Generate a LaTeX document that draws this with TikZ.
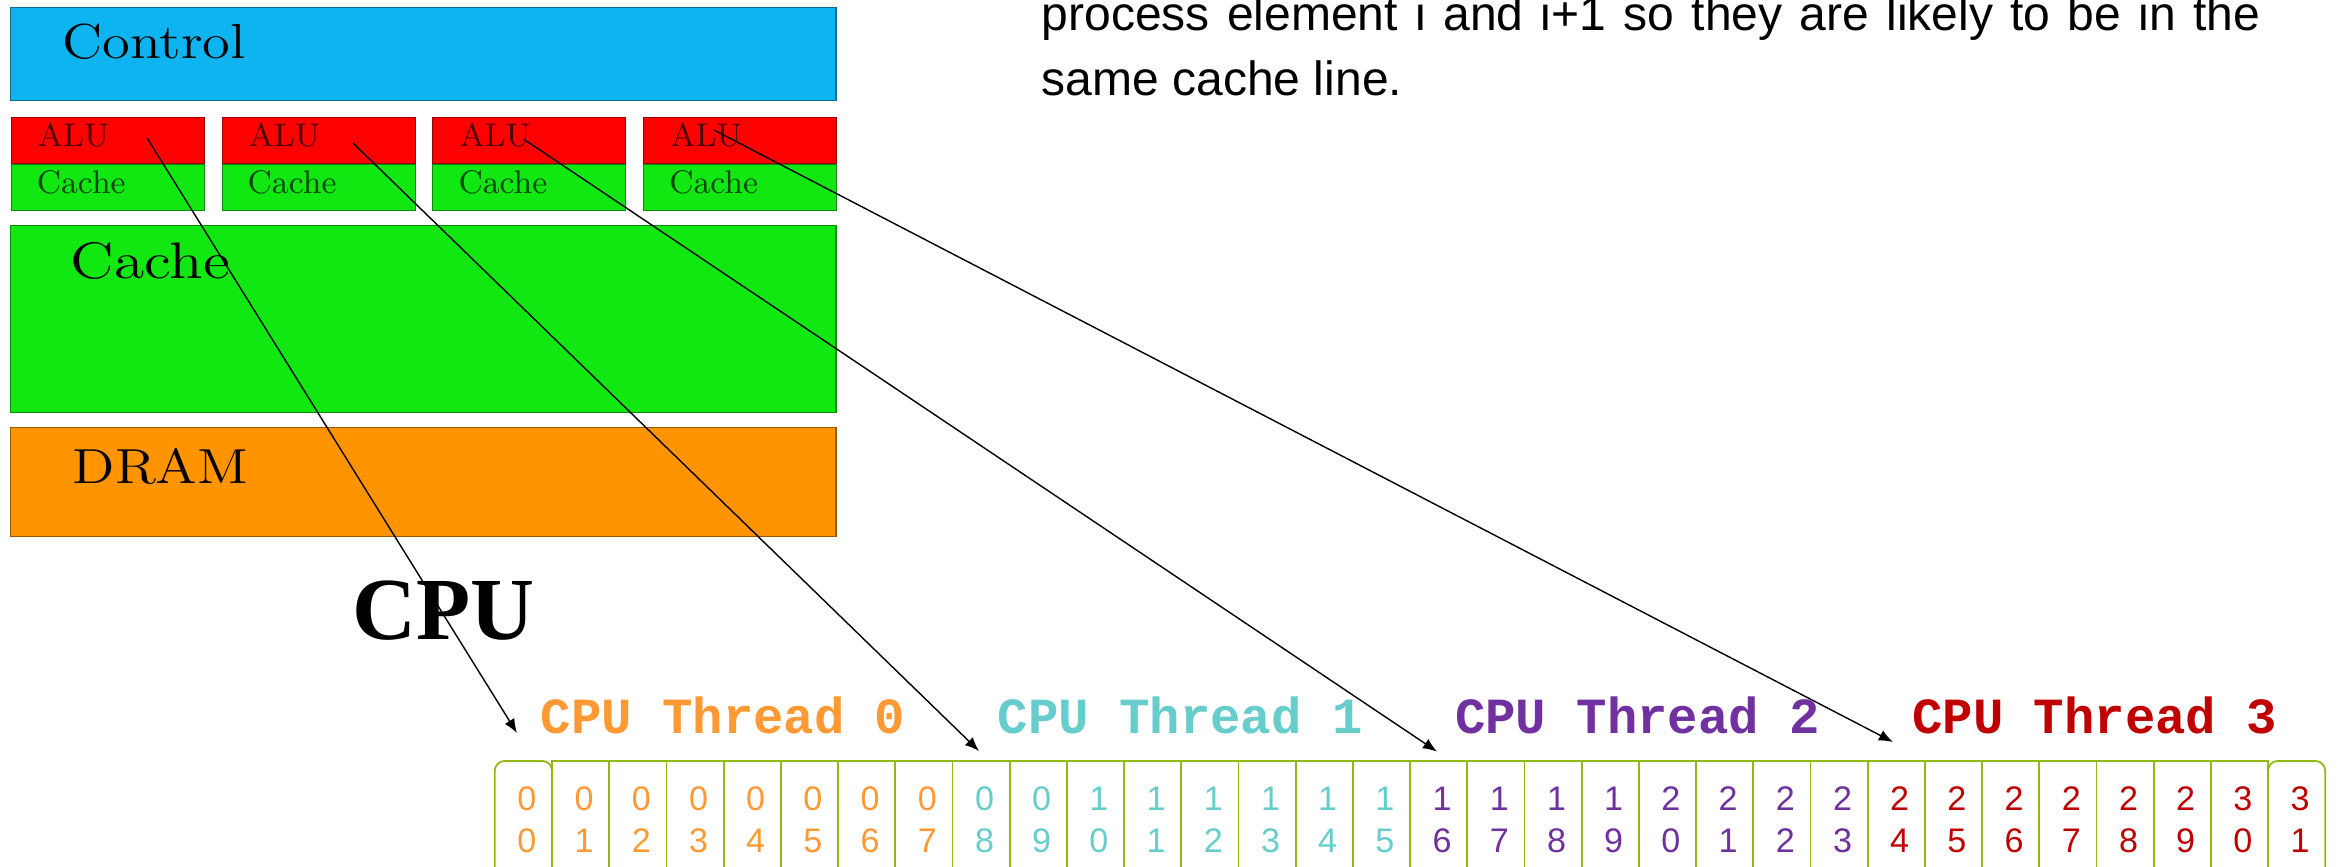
\documentclass[tikz,border=0pt]{standalone}
\usepackage{fontspec}
\usepackage{graphicx}
\usetikzlibrary{positioning,arrows.meta}
\newfontfamily\arialfont{Liberation Sans}
\newfontfamily\courfont{Liberation Mono}
\newfontfamily\timesfont{Liberation Serif}
\definecolor{ctrlblue}{RGB}{13,180,240}
\definecolor{alured}{RGB}{255,0,0}
\definecolor{cachegreen}{RGB}{17,232,17}
\definecolor{dramorange}{RGB}{255,148,0}
\definecolor{cellgreen}{RGB}{146,184,18}
\definecolor{th0}{RGB}{255,153,51}
\definecolor{th1}{RGB}{102,204,204}
\definecolor{th2}{RGB}{112,48,160}
\definecolor{th3}{RGB}{192,0,0}
\begin{document}
\begin{tikzpicture}[x=0.01cm, y=-0.01cm,
    panel/.style={draw=#1!60!black, fill=#1, line width=0.3pt, inner sep=0pt, anchor=north west},
    wide/.style={minimum width=8.25cm},
    small/.style={minimum width=1.93cm, minimum height=0.46cm},
    bigtxt/.style={anchor=base west, inner sep=0pt, font=\fontsize{14}{17}\selectfont},
    smalltxt/.style={anchor=base west, inner sep=0pt, text opacity=0.7, font=\fontsize{9.3}{11}\selectfont},
    thread/.style={anchor=base west, inner sep=0pt, font=\courfont\fontsize{14.4}{17}\selectfont\bfseries},
    cell/.style={draw=cellgreen, line width=0.5pt, anchor=north, minimum width=0.572cm, minimum height=1.18cm,
        inner sep=0pt, align=center, font=\arialfont\fontsize{9.7}{11.9}\selectfont},
    arr/.style={-{Latex[length=4pt, width=3.2pt]}, line width=0.4pt}]
  \useasboundingbox (0,0) rectangle (2338,866);
  \clip (0,0) rectangle (2338,866);

  % CPU block
  \node (control) [panel=ctrlblue, wide, minimum height=0.93cm] at (10,7) {};
  \node (ctrltxt) [bigtxt] at (62,58) {\scalebox{1.15}[1]{Control}};
  \foreach \i in {0,...,3}{
    \node (alu\i) [panel=alured, small] at ({10.7+210.8*\i},116.7) {};
    \node (l1\i) [panel=cachegreen, small, below=0pt of alu\i] {};
    \node (alutxt\i) [smalltxt] at ([xshift=0.265cm, yshift=-0.293cm]alu\i.north west) {ALU};
    \node (l1txt\i) [smalltxt] at ([xshift=0.255cm, yshift=-0.293cm]l1\i.north west) {Cache};
  }
  \node (l2) [panel=cachegreen, wide, minimum height=1.87cm] at (10,225) {};
  \node (l2txt) [bigtxt, font=\fontsize{14.6}{17}\selectfont] at (70,278) {\scalebox{1.2}[1]{Cache}};
  \node (dram) [panel=dramorange, wide, minimum height=1.09cm] at (10,427) {};
  \node (dramtxt) [bigtxt] at (72,483) {\scalebox{1.15}[1]{DRAM}};
  \node (cpu) [anchor=base west, inner sep=0pt, font=\timesfont\fontsize{25.2}{30}\selectfont\bfseries] at (351.5,639.3) {CPU};

  \node (note) [anchor=north west, inner sep=0pt, text width=12.18cm, align=justify,
    font=\arialfont\fontsize{13.66}{18.5}\selectfont]
    at (1041,-5) {process element i and i+1 so they are likely to be in the same cache line.};

  % threads and array
  \foreach \j in {0,...,3}
    \node (thr\j) [thread, text=th\j] at ({540+457.2*\j},733) {CPU Thread \j};
  \foreach \k in {0,...,31}{
    \pgfmathtruncatemacro{\tens}{\k/10}
    \pgfmathtruncatemacro{\ones}{mod(\k,10)}
    \pgfmathtruncatemacro{\thr}{\k/8}
    \pgfmathsetmacro{\rc}{(\k==0 || \k==31) ? 2.85 : 0}
    \node (c\k) [cell, rounded corners=\rc pt, text=th\thr] at ({523.4+57.2*\k},760)
      {\hspace*{0.07cm}\tens\\\hspace*{0.07cm}\ones};
  }

  % ALU -> thread
  \coordinate (s0) at (147.3,138.3);
  \coordinate (s1) at (353,143);
  \coordinate (s2) at (523.5,139);
  \coordinate (s3) at (714,130);
  \coordinate (e0) at (517,733);
  \coordinate (e1) at (979,751);
  \coordinate (e2) at (1437,751.5);
  \coordinate (e3) at (1893,742);
  \foreach \i in {0,...,3}
    \draw[arr] (s\i) -- (e\i);
\end{tikzpicture}
\end{document}
